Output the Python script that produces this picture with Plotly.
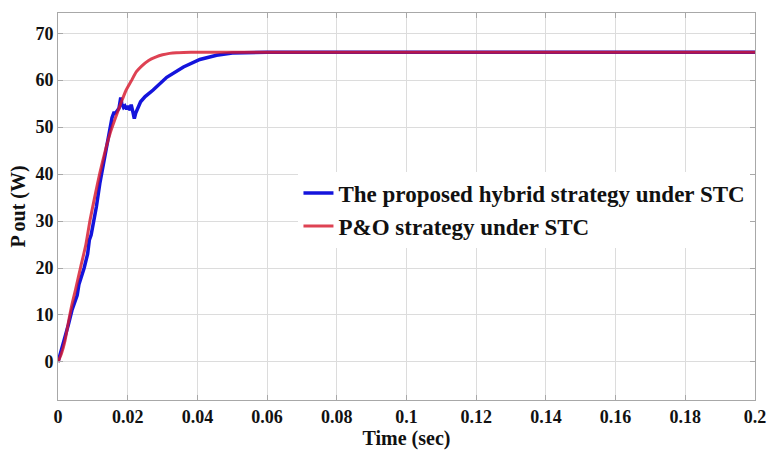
import plotly.graph_objects as go

# Output power of the PV system, simulation time in seconds
t_hybrid = [0, 0.001, 0.002, 0.003, 0.004, 0.005, 0.0055, 0.006, 0.0065, 0.0075,
            0.0085, 0.009, 0.0095, 0.0105, 0.011, 0.012, 0.013, 0.014, 0.0147, 0.0152,
            0.0155, 0.016, 0.0165, 0.017, 0.0175, 0.018, 0.0183, 0.0188, 0.0192, 0.0197,
            0.0202, 0.0207, 0.021, 0.0215, 0.0219, 0.0223, 0.0228, 0.0237, 0.025, 0.0273,
            0.0312, 0.036, 0.0407, 0.0455, 0.05, 0.055, 0.06, 0.08, 0.1, 0.12,
            0.14, 0.16, 0.18, 0.2]
p_hybrid = [0, 2.5, 5.0, 8.0, 11.0, 13.5, 14.2, 16.5, 17.5, 20.0,
            23.0, 26.0, 27.0, 30.5, 33.0, 38.0, 42.0, 46.0, 49.0, 50.5,
            52.0, 53.0, 53.0, 53.5, 54.0, 56.3, 55.0, 54.2, 54.5, 53.8,
            54.5, 53.6, 54.8, 53.2, 51.8, 53.0, 54.0, 55.4, 56.5, 57.9,
            60.6, 62.8, 64.4, 65.3, 65.8, 65.95, 65.95, 65.95, 65.95, 65.95,
            65.95, 65.95, 65.95, 65.95]

t_po = [0, 0.001, 0.002, 0.003, 0.004, 0.005, 0.0065, 0.008, 0.0092, 0.0105,
        0.012, 0.0135, 0.015, 0.0165, 0.018, 0.0195, 0.021, 0.0225, 0.024, 0.026,
        0.028, 0.030, 0.032, 0.034, 0.036, 0.040, 0.05, 0.06, 0.08, 0.1,
        0.12, 0.14, 0.16, 0.18, 0.2]
p_po = [0, 1.8, 4.5, 8.5, 12.2, 15.3, 20.2, 25.0, 30.2, 35.0,
        40.2, 44.8, 48.8, 52.0, 55.0, 57.8, 59.8, 61.8, 63.0, 64.2,
        64.9, 65.4, 65.7, 65.85, 65.9, 65.95, 65.95, 65.95, 65.95, 65.95,
        65.95, 65.95, 65.95, 65.95, 65.95]

x_ticks = [0, 0.02, 0.04, 0.06, 0.08, 0.1, 0.12, 0.14, 0.16, 0.18, 0.2]
x_tick_text = ["0", "0.02", "0.04", "0.06", "0.08", "0.1", "0.12", "0.14", "0.16", "0.18", "0.2"]
y_ticks = [0, 10, 20, 30, 40, 50, 60, 70]

serif = "Liberation Serif"

fig = go.Figure()
fig.add_trace(go.Scatter(
    x=t_hybrid, y=p_hybrid, mode="lines",
    name="The proposed hybrid strategy under STC",
    line=dict(color="#1414dc", width=3.5),
))
fig.add_trace(go.Scatter(
    x=t_po, y=p_po, mode="lines",
    name="P&O strategy under STC",
    line=dict(color="rgba(215,25,45,0.82)", width=3, shape="spline", smoothing=0.6),
))

axis_common = dict(
    showgrid=True, gridcolor="#dcdcdc", gridwidth=1,
    showline=True, linecolor="#a8a8a8", linewidth=1, mirror="ticks",
    ticks="inside", ticklen=5, tickcolor="#a8a8a8",
    zeroline=False, automargin=False,
    tickfont=dict(family=serif, size=18, color="#111", weight="bold"),
)

fig.update_xaxes(
    range=[0, 0.2], tickvals=x_ticks, ticktext=x_tick_text,
    title=dict(text="Time (sec)", font=dict(family=serif, size=20, color="#111", weight="bold"), standoff=2),
    **axis_common,
)
fig.update_yaxes(
    range=[-8.1, 74.3], tickvals=y_ticks,
    title=dict(text="P out (W)", font=dict(family=serif, size=20, color="#111", weight="bold"), standoff=4),
    **axis_common,
)

fig.update_layout(
    width=767, height=450,
    margin=dict(l=58, r=12, t=13, b=50),
    paper_bgcolor="white", plot_bgcolor="white",
    showlegend=True,
    legend=dict(
        x=0.345, y=0.59, xanchor="left", yanchor="top",
        bgcolor="white", borderwidth=0,
        font=dict(family=serif, size=23, color="#111", weight="bold"),
        tracegroupgap=0, itemwidth=30,
    ),
)

fig.write_html("out.html")
